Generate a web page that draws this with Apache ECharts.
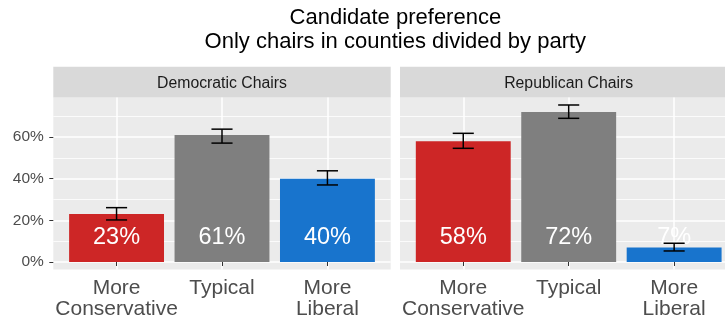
<!DOCTYPE html>
<html>
<head>
<meta charset="utf-8">
<script src="https://cdn.jsdelivr.net/npm/echarts@6/dist/echarts.min.js"></script>
<style>
  html, body { margin: 0; padding: 0; background: #ffffff; }
  #chart { width: 725px; height: 322px; }
</style>
</head>
<body>
<div id="chart"></div>
<script>
// ---- data ----
const titleLines = ['Candidate preference', 'Only chairs in counties divided by party'];
const panels = ['Democratic Chairs', 'Republican Chairs'];
const categories = ['More\nConservative', 'Typical', 'More\nLiberal'];
const demValues = [23, 61, 40];
const demLow = [20.2, 57.1, 37.0];
const demHigh = [26.1, 63.8, 43.8];
const repValues = [58, 72, 7];
const repLow = [54.6, 69.0, 5.3];
const repHigh = [61.8, 75.4, 9.0];
const yTicks = [0, 20, 40, 60];
const yMinorTicks = [10, 30, 50, 70];
const labelLevel = 12;   // height (in %) where the value labels sit

// ---- styling / layout ----
const barColors = ['#CD2626', '#7F7F7F', '#1874CD'];
const FONT = '"Liberation Sans", Arial, Helvetica, sans-serif';
const panelLeft = [53.3, 400];
const panelWidth = 337.4;
const panelTop = 97.5;
const panelHeight = 172;
const stripTop = 66.7;
const stripHeight = 30.8;
const yMin = -3.6, yMax = 79;

const chart = echarts.init(document.getElementById('chart'), null, { renderer: 'canvas' });

function panelData(values, low, high) {
  return values.map((v, i) => [i + 1, v, low[i], high[i]]);
}

function renderBar(params, api) {
  const x = api.value(0), v = api.value(1), lo = api.value(2), hi = api.value(3);
  const base = api.coord([x, 0]);
  const top = api.coord([x, v]);
  const bw = api.size([0.9, 0])[0];
  const cw = api.size([0.2, 0])[0];
  const pLo = api.coord([x, lo]);
  const pHi = api.coord([x, hi]);
  const pLab = api.coord([x, labelLevel]);
  const errStyle = { stroke: '#000000', lineWidth: 1.5 };
  return {
    type: 'group',
    children: [
      { type: 'rect', shape: { x: base[0] - bw / 2, y: top[1], width: bw, height: base[1] - top[1] },
        style: { fill: barColors[params.dataIndex] } },
      { type: 'text', style: { text: Math.round(v) + '%', x: pLab[0], y: pLab[1],
          align: 'center', verticalAlign: 'middle', textAlign: 'center', textVerticalAlign: 'middle',
          fill: '#ffffff', fontSize: 23.5, fontFamily: FONT } },
      { type: 'line', shape: { x1: pHi[0], y1: pHi[1], x2: pLo[0], y2: pLo[1] }, style: errStyle },
      { type: 'line', shape: { x1: pHi[0] - cw / 2, y1: pHi[1], x2: pHi[0] + cw / 2, y2: pHi[1] }, style: errStyle },
      { type: 'line', shape: { x1: pLo[0] - cw / 2, y1: pLo[1], x2: pLo[0] + cw / 2, y2: pLo[1] }, style: errStyle }
    ]
  };
}

const grids = [], xAxes = [], yAxes = [], series = [], graphics = [];
const panelSets = [panelData(demValues, demLow, demHigh), panelData(repValues, repLow, repHigh)];

panels.forEach((name, p) => {
  // the right panel runs past the page edge, so keep its full width
  grids.push({ left: panelLeft[p], top: panelTop, width: panelWidth, height: panelHeight,
    show: true, backgroundColor: '#EBEBEB', borderWidth: 0, containLabel: false,
    outerBoundsMode: 'none' });

  xAxes.push({
    type: 'value', gridIndex: p, min: 0.4, max: 3.6,
    axisLine: { show: false },
    axisTick: { show: true, customValues: [1, 2, 3], length: 4, lineStyle: { color: '#333333', width: 1 } },
    axisLabel: { show: true, customValues: [1, 2, 3], margin: 7.5, color: '#4D4D4D', fontSize: 21,
      lineHeight: 21.7, fontFamily: FONT, formatter: v => categories[Math.round(v) - 1] },
    splitLine: { show: true, lineStyle: { color: '#FFFFFF', width: 1.5 } }
  });

  // major gridlines + labels
  yAxes.push({
    type: 'value', gridIndex: p, min: yMin, max: yMax,
    axisLine: { show: false },
    axisTick: { show: p === 0, customValues: yTicks, length: 4, lineStyle: { color: '#333333', width: 1 } },
    axisLabel: { show: p === 0, customValues: yTicks, margin: 9.5, color: '#4D4D4D', fontSize: 15.5,
      fontFamily: FONT, formatter: v => v + '%' },
    splitLine: { show: true, lineStyle: { color: '#FFFFFF', width: 1.5 } }
  });
  // minor gridlines
  yAxes.push({
    type: 'value', gridIndex: p, min: yMin, max: yMax, position: 'left',
    axisLine: { show: false }, axisLabel: { show: false },
    axisTick: { show: true, length: 0, customValues: yMinorTicks, lineStyle: { opacity: 0 } },
    splitLine: { show: true, lineStyle: { color: '#FFFFFF', width: 0.8 } }
  });

  series.push({
    type: 'custom', xAxisIndex: p, yAxisIndex: p * 2, renderItem: renderBar,
    data: panelSets[p], clip: false, silent: true
  });

  // facet strip
  graphics.push({ type: 'rect', x: panelLeft[p], y: stripTop,
    shape: { x: 0, y: 0, width: panelWidth, height: stripHeight }, style: { fill: '#D9D9D9' }, silent: true });
  graphics.push({ type: 'text', x: panelLeft[p] + panelWidth / 2, y: stripTop + stripHeight / 2 + 1.3,
    style: { text: name, textAlign: 'center', textVerticalAlign: 'middle', align: 'center', verticalAlign: 'middle',
      fill: '#1A1A1A', fontSize: 15.8, fontFamily: FONT }, silent: true });
});

// chart title, centred over the two panels
const titleCenter = (panelLeft[0] + panelLeft[1] + panelWidth) / 2;
titleLines.forEach((t, i) => {
  graphics.push({ type: 'text', x: titleCenter, y: 17.5 + i * 24.5,
    style: { text: t, textAlign: 'center', textVerticalAlign: 'middle', align: 'center', verticalAlign: 'middle',
      fill: '#000000', fontSize: 22, fontFamily: FONT }, silent: true });
});

chart.setOption({
  animation: false,
  backgroundColor: '#FFFFFF',
  grid: grids,
  xAxis: xAxes,
  yAxis: yAxes,
  series: series,
  graphic: { elements: graphics }
});
</script>
</body>
</html>
